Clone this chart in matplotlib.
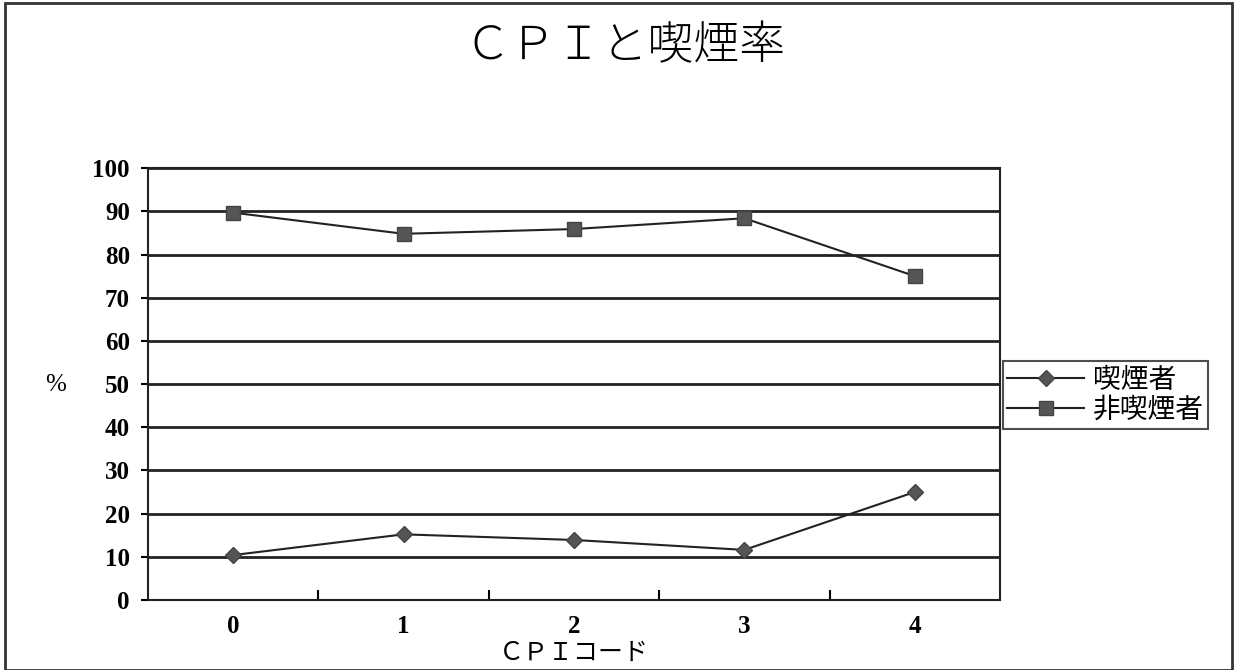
import matplotlib.pyplot as plt
from matplotlib.patches import Rectangle

plt.rcParams['font.family'] = ['Liberation Serif', 'Noto Sans CJK JP', 'DejaVu Sans']

categories = ['0', '1', '2', '3', '4']
smokers = [10.4, 15.2, 13.9, 11.6, 25.0]
non_smokers = [89.7, 84.8, 85.9, 88.4, 75.0]
yticks = [0, 10, 20, 30, 40, 50, 60, 70, 80, 90, 100]

fig = plt.figure(figsize=(12.37, 6.7), dpi=100)
ax = fig.add_axes([0.1196, 0.1045, 0.6888, 0.6445])

x = range(len(categories))
ax.plot(x, smokers, '-', color='#222222', lw=1.5, marker='D', ms=8,
        mfc='#555555', mec='#444444', label='喫煙者')
ax.plot(x, non_smokers, '-', color='#222222', lw=1.5, marker='s', ms=10,
        mfc='#555555', mec='#444444', label='非喫煙者')

ax.set_xlim(-0.5, 4.5)
ax.set_ylim(0, 100)
ax.set_yticks(yticks)
ax.set_yticklabels([str(v) for v in yticks], fontsize=18, fontweight='bold')
ax.yaxis.grid(True, color='#222222', lw=2)
ax.set_axisbelow(True)

# category labels without marks, boundary ticks pointing inward
ax.set_xticks(list(x))
ax.set_xticklabels(categories, fontsize=18, fontweight='bold')
ax.tick_params(axis='x', length=0, pad=11)
ax.set_xticks([0.5, 1.5, 2.5, 3.5], minor=True)
ax.tick_params(axis='x', which='minor', direction='in', length=7, width=1.5)
ax.tick_params(axis='y', length=5, width=1.5, pad=8)

for s in ax.spines.values():
    s.set_color('#222222')
    s.set_linewidth(1.5)

ax.set_xlabel('ＣＰＩコード', fontsize=18, family=['Noto Sans CJK JP'],
              labelpad=1)
fig.text(0.045, 0.425, '%', fontsize=18, ha='center', va='center')
fig.text(0.505, 0.93, 'ＣＰＩと喫煙率', fontsize=33, ha='center', va='center',
         family=['Noto Sans CJK JP'], fontweight='light')

leg = ax.legend(loc='center left', bbox_to_anchor=(1.003, 0.475),
                prop={'family': 'Noto Sans CJK JP', 'size': 20},
                frameon=True, fancybox=False, borderpad=0.15,
                handlelength=2.8, handletextpad=0.3, labelspacing=0.0,
                borderaxespad=0)
leg.get_frame().set_edgecolor('#222222')
leg.get_frame().set_linewidth(1.5)

fig.patches.append(Rectangle((0.004, 0.0), 0.992, 0.995, transform=fig.transFigure,
                             fill=False, edgecolor='#333333', lw=2))

fig.savefig('out.png', dpi=100)
